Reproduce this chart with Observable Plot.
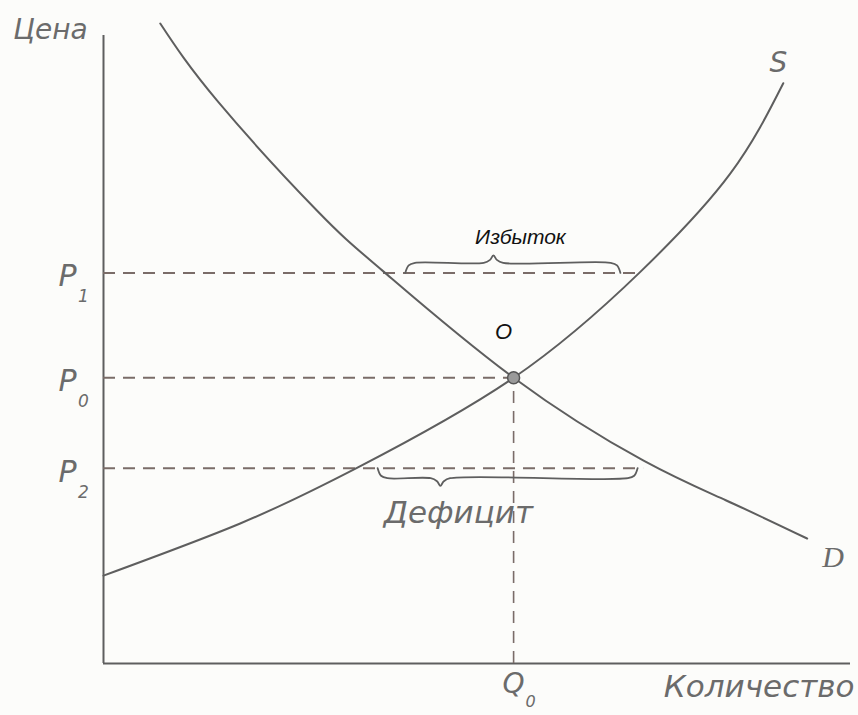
<!DOCTYPE html>
<html><head><meta charset="utf-8">
<script src="https://cdn.jsdelivr.net/npm/d3@7"></script>
<script src="https://cdn.jsdelivr.net/npm/@observablehq/plot@0.6"></script>
<style>
html,body{margin:0;padding:0;background:#fcfcfa;}
#chart svg{display:block;}
</style>
</head><body><div id="chart"></div>
<script>
// Supply curve S (quantity, price)
const supplyQ = [0, 18.3, 34.0, 54.9, 71.9, 83.9, 91.0];
const supplyP = [14.0, 22.3, 31.2, 45.5, 62.4, 78.0, 92.4];
// Demand curve D
const demandQ = [7.6, 15.3, 28.6, 37.5, 54.9, 72.3, 83.3, 94.2];
const demandP = [101.9, 89.5, 72.1, 62.4, 45.5, 32.3, 26.0, 19.9];
// Equilibrium
const q0 = 54.9, p0 = 45.5;
// Price levels: label, subscript, price, quantity where the dashed line ends
const priceNames = ["P", "P", "P"];
const priceSubs = ["1", "0", "2"];
const priceValues = [62.2, 45.5, 31.1];
const priceEnds = [72.0, 54.9, 72.3];
// Surplus (Избыток) at P1 and shortage (Дефицит) at P2: brace from, to, tip
const surplusBrace = [40.4, 69.2, 52.2];
const shortageBrace = [36.7, 71.5, 45.1];

const supply = supplyQ.map((q, i) => ({q, p: supplyP[i]}));
const demand = demandQ.map((q, i) => ({q, p: demandP[i]}));
const levels = priceValues.map((p, i) => ({p, name: priceNames[i], sub: priceSubs[i], end: priceEnds[i]}));

function brace(q1, q2, qt, pb, h) {
  const a = 1.3;
  return [
    {q: q1, p: pb}, {q: q1 + a * 0.35, p: pb + h * 0.75}, {q: q1 + a, p: pb + h},
    {q: qt - a, p: pb + h}, {q: qt - a * 0.35, p: pb + h * 1.3}, {q: qt, p: pb + h * 1.75},
    {q: qt + a * 0.35, p: pb + h * 1.3}, {q: qt + a, p: pb + h},
    {q: q2 - a, p: pb + h}, {q: q2 - a * 0.35, p: pb + h * 0.75}, {q: q2, p: pb}
  ];
}
const braceUp = brace(surplusBrace[0], surplusBrace[1], surplusBrace[2], priceValues[0], 1.6);
const braceDown = brace(shortageBrace[0], shortageBrace[1], shortageBrace[2], priceValues[2], -1.6);

const ink = "#5e5e5e";
const dashInk = "#7a6c68";
const textInk = "#6b6b6b";
const handFont = "DejaVu Sans";

const chart = Plot.plot({
  width: 858, height: 715,
  marginLeft: 103, marginRight: 8, marginTop: 35, marginBottom: 52,
  x: {domain: [0, 100], axis: null},
  y: {domain: [0, 100], axis: null},
  style: {background: "transparent", overflow: "visible"},
  marks: [
    // axes
    Plot.ruleX([0], {y1: 0, y2: 100, stroke: ink, strokeWidth: 2}),
    Plot.ruleY([0], {x1: 0, x2: 100, stroke: ink, strokeWidth: 2}),
    // dashed price lines
    Plot.ruleY(levels, {y: "p", x1: 0, x2: "end", stroke: dashInk, strokeWidth: 2, strokeDasharray: "12,8"}),
    Plot.ruleX([q0], {y1: 0, y2: p0, stroke: dashInk, strokeWidth: 1.6, strokeDasharray: "12,8"}),
    // curves
    Plot.line(supply, {x: "q", y: "p", curve: "natural", stroke: ink, strokeWidth: 2}),
    Plot.line(demand, {x: "q", y: "p", curve: "natural", stroke: ink, strokeWidth: 2}),
    // braces
    Plot.line(braceUp, {x: "q", y: "p", curve: "catmull-rom", stroke: ink, strokeWidth: 1.8}),
    Plot.line(braceDown, {x: "q", y: "p", curve: "catmull-rom", stroke: ink, strokeWidth: 1.8}),
    // equilibrium point
    Plot.dot([{q: q0, p: p0}], {x: "q", y: "p", r: 6, fill: "#9a9a9a", stroke: "#555", strokeWidth: 1.5}),
    // price labels
    Plot.text(levels, {x: 0, y: "p", text: "name", dx: -36, dy: 4, fontSize: 30, fontStyle: "italic", fontFamily: handFont, fill: textInk}),
    Plot.text(levels, {x: 0, y: "p", text: "sub", dx: -20, dy: 24, fontSize: 17, fontStyle: "italic", fontFamily: handFont, fill: textInk}),
    // quantity label
    Plot.text([q0], {x: d => d, y: 0, text: () => "Q", dy: 21, fontSize: 28, fontStyle: "italic", fontFamily: handFont, fill: textInk}),
    Plot.text([q0], {x: d => d, y: 0, text: () => "0", dx: 17, dy: 38, fontSize: 16, fontStyle: "italic", fontFamily: handFont, fill: textInk}),
    // axis titles
    Plot.text(["Цена"], {x: 0, y: 100, text: d => d, dx: -53, dy: -5, fontSize: 28, fontStyle: "italic", fontFamily: handFont, fill: textInk}),
    Plot.text(["Количество"], {x: 100, y: 0, text: d => d, textAnchor: "end", dx: 4, dy: 24, fontSize: 31, fontStyle: "italic", fontFamily: handFont, fill: textInk}),
    // curve labels
    Plot.text(["S"], {x: supplyQ[supplyQ.length - 1], y: supplyP[supplyP.length - 1], text: d => d, dx: -5, dy: -20, fontSize: 28, fontStyle: "italic", fontFamily: handFont, fill: textInk}),
    Plot.text(["D"], {x: demandQ[demandQ.length - 1], y: demandP[demandP.length - 1], text: d => d, dx: 26, dy: 19, fontSize: 30, fontStyle: "italic", fontFamily: "Liberation Serif", fill: textInk}),
    // annotations
    Plot.text(["O"], {x: q0, y: p0, text: d => d, dx: -10, dy: -46, fontSize: 22, fontStyle: "italic", fontFamily: "Liberation Sans", fill: "#111"}),
    Plot.text(["Избыток"], {x: surplusBrace[2], y: priceValues[0], text: d => d, dx: 27, dy: -36, fontSize: 21, fontStyle: "italic", fontFamily: "Liberation Sans", fill: "#111"}),
    Plot.text(["Дефицит"], {x: shortageBrace[2], y: priceValues[2], text: d => d, dx: 18, dy: 45, fontSize: 31, fontStyle: "italic", fontFamily: handFont, fill: textInk})
  ]
});
document.getElementById("chart").append(chart);
</script>
</body></html>
